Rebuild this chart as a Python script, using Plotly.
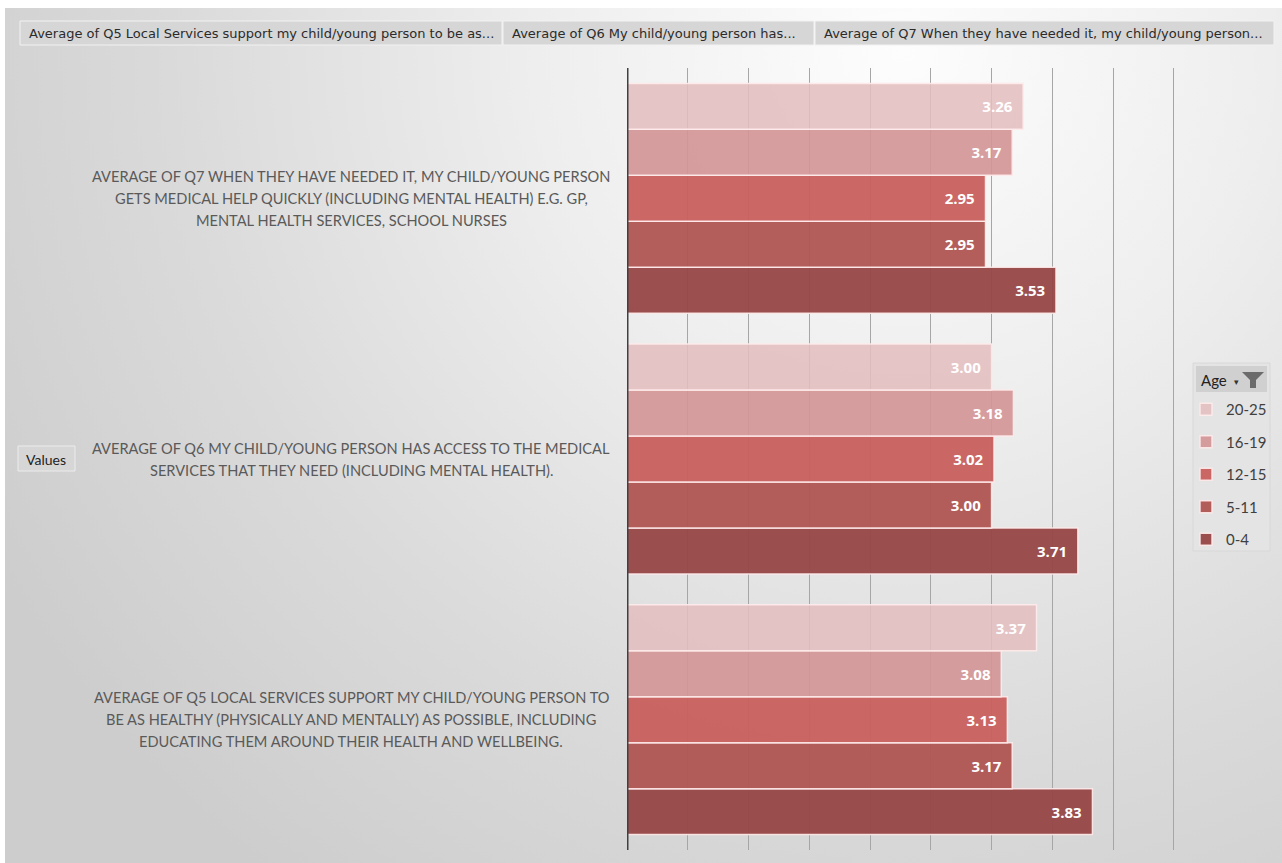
import base64
import plotly.graph_objects as go

# ---------------- data ----------------
questions = ["Q5", "Q6", "Q7"]
question_labels = [
    ["AVERAGE OF Q5 LOCAL SERVICES SUPPORT MY CHILD/YOUNG PERSON TO",
     "BE AS HEALTHY (PHYSICALLY AND MENTALLY) AS POSSIBLE, INCLUDING",
     "EDUCATING THEM AROUND THEIR HEALTH AND WELLBEING."],
    ["AVERAGE OF Q6 MY CHILD/YOUNG PERSON HAS ACCESS TO THE MEDICAL",
     "SERVICES THAT THEY NEED (INCLUDING MENTAL HEALTH)."],
    ["AVERAGE OF Q7 WHEN THEY HAVE NEEDED IT, MY CHILD/YOUNG PERSON",
     "GETS MEDICAL HELP QUICKLY (INCLUDING MENTAL HEALTH) E.G. GP,",
     "MENTAL HEALTH SERVICES, SCHOOL NURSES"],
]
age_groups = ["0-4", "5-11", "12-15", "16-19", "20-25"]
vals_0_4 = [3.83, 3.71, 3.53]
vals_5_11 = [3.17, 3.00, 2.95]
vals_12_15 = [3.13, 3.02, 2.95]
vals_16_19 = [3.08, 3.18, 3.17]
vals_20_25 = [3.37, 3.00, 3.26]
series = [vals_0_4, vals_5_11, vals_12_15, vals_16_19, vals_20_25]
colors = ["rgba(150,70,70,0.95)", "rgba(175,85,82,0.95)", "rgba(200,95,93,0.95)",
          "rgba(212,150,152,0.92)", "rgba(228,190,192,0.88)"]
field_buttons = [
    "Average of Q5 Local Services support my child/young person to be as...",
    "Average of Q6 My child/young person has...",
    "Average of Q7 When they have needed it, my child/young person...",
]

# ---------------- layout geometry ----------------
W, H = 1282, 863
L, R, T, B = 627, 1186, 68, 850
PW, PH = R - L, B - T


def px(x):
    return (x - L) / PW


def py(y):
    return (B - y) / PH


fig = go.Figure()
n_series = len(age_groups)
for k, (name, vals, col) in enumerate(zip(age_groups, series, colors)):
    fig.add_trace(go.Bar(
        y=questions, x=vals, orientation="h", name=name,
        marker=dict(color=col, line=dict(color="rgba(255,235,235,0.9)", width=1.5)),
        text=[f"{v:.2f}\u00a0\u00a0" for v in vals], textposition="inside",
        insidetextanchor="end",
        textfont=dict(color="white", size=15, family="Open Sans", weight="bold"),
        legendgroup=name, legendrank=n_series - k,
    ))

# background gradient
svg = f'''<svg xmlns="http://www.w3.org/2000/svg" width="{W}" height="{H}">
<defs><radialGradient id="g" cx="900" cy="40" r="1050" gradientUnits="userSpaceOnUse">
<stop offset="0" stop-color="#fdfdfd"/><stop offset="0.35" stop-color="#eeeeee"/>
<stop offset="0.7" stop-color="#dadada"/><stop offset="1" stop-color="#cdcdcd"/></radialGradient></defs>
<rect x="0" y="0" width="{W}" height="{H}" fill="url(#g)"/></svg>'''
src = "data:image/svg+xml;base64," + base64.b64encode(svg.encode()).decode()
fig.add_layout_image(dict(source=src, xref="paper", yref="paper",
                          x=px(5), y=py(8), sizex=px(W) - px(5), sizey=py(8) - py(H),
                          xanchor="left", yanchor="top", sizing="stretch", layer="below"))

shapes = []
annotations = []

# top field buttons
btn_edges = [20, 503, 815, 1275]
for i, txt in enumerate(field_buttons):
    x0, x1 = btn_edges[i], btn_edges[i + 1]
    shapes.append(dict(type="rect", xref="paper", yref="paper", x0=px(x0), x1=px(x1 - 1),
                       y0=py(45), y1=py(21), fillcolor="#d6d6d6",
                       line=dict(color="#f2f2f2", width=1), layer="below"))
    annotations.append(dict(text=txt, xref="paper", yref="paper", x=px(x0 + 7), y=py(33),
                            xanchor="left", yanchor="middle", showarrow=False,
                            font=dict(family="DejaVu Sans", size=13, color="#2b2b2b")))

# Values button
shapes.append(dict(type="rect", xref="paper", yref="paper", x0=px(18), x1=px(75),
                   y0=py(471), y1=py(446), fillcolor="#d6d6d6",
                   line=dict(color="#ececec", width=1), layer="below"))
annotations.append(dict(text="Values", xref="paper", yref="paper", x=px(46), y=py(459),
                        xanchor="center", yanchor="middle", showarrow=False,
                        font=dict(family="Lato", size=14, color="#222222")))

# category labels
for q, lines in zip(questions, question_labels):
    n = len(lines)
    for j, line in enumerate(lines):
        annotations.append(dict(text=line, xref="paper", yref="y", x=px(351), y=q,
                                xanchor="center", yanchor="middle", showarrow=False,
                                yshift=-(j - (n - 1) / 2) * 22,
                                font=dict(family="Lato", size=14.6, color="#5a5a5a")))

# legend box + title button
shapes.append(dict(type="rect", xref="paper", yref="paper", x0=px(1193), x1=px(1270),
                   y0=py(551), y1=py(363), fillcolor="#e4e4e4",
                   line=dict(color="#d8d8d8", width=1), layer="below"))
shapes.append(dict(type="rect", xref="paper", yref="paper", x0=px(1196), x1=px(1267),
                   y0=py(392), y1=py(366), fillcolor="#d0d0d0",
                   line=dict(width=0), layer="below"))
annotations.append(dict(text="Age", xref="paper", yref="paper", x=px(1199), y=py(380),
                        xanchor="left", yanchor="middle", showarrow=False,
                        font=dict(family="Lato", size=15, color="#222222")))
annotations.append(dict(text="▾", xref="paper", yref="paper", x=px(1236), y=py(382),
                        xanchor="center", yanchor="middle", showarrow=False,
                        font=dict(family="DejaVu Sans", size=9, color="#333333")))
fx = lambda v: px(v)
fy = lambda v: py(v)
shapes.append(dict(type="path", xref="paper", yref="paper",
                   path=(f"M {fx(1242)},{fy(372)} L {fx(1264)},{fy(372)} L {fx(1256)},{fy(380)} "
                         f"L {fx(1256)},{fy(388)} L {fx(1250)},{fy(388)} L {fx(1250)},{fy(380)} Z"),
                   fillcolor="#6b6b6b", line=dict(width=0)))

fig.update_layout(
    width=W, height=H,
    margin=dict(l=L, r=W - R, t=T, b=H - B, pad=0, autoexpand=False),
    paper_bgcolor="white", plot_bgcolor="rgba(0,0,0,0)",
    barmode="group", bargap=0.118, bargroupgap=0,
    xaxis=dict(range=[0, 4.6], dtick=0.5, showticklabels=False, showgrid=True,
               gridcolor="#a6a6a6", gridwidth=1, zeroline=False, showline=False,
               fixedrange=True),
    yaxis=dict(categoryorder="array", categoryarray=questions, showticklabels=False,
               showgrid=False, zeroline=False, showline=False, fixedrange=True),
    showlegend=True,
    legend=dict(traceorder="grouped", x=px(1186), y=py(393), xanchor="left", yanchor="top",
                bgcolor="rgba(0,0,0,0)", font=dict(family="Lato", size=15, color="#404040"),
                tracegroupgap=10, itemwidth=30),
    shapes=shapes + [dict(type="line", xref="x", yref="paper", x0=0, x1=0, y0=0, y1=1,
                          line=dict(color="#404040", width=3))],
    annotations=annotations,
)

fig.write_html("out.html")
